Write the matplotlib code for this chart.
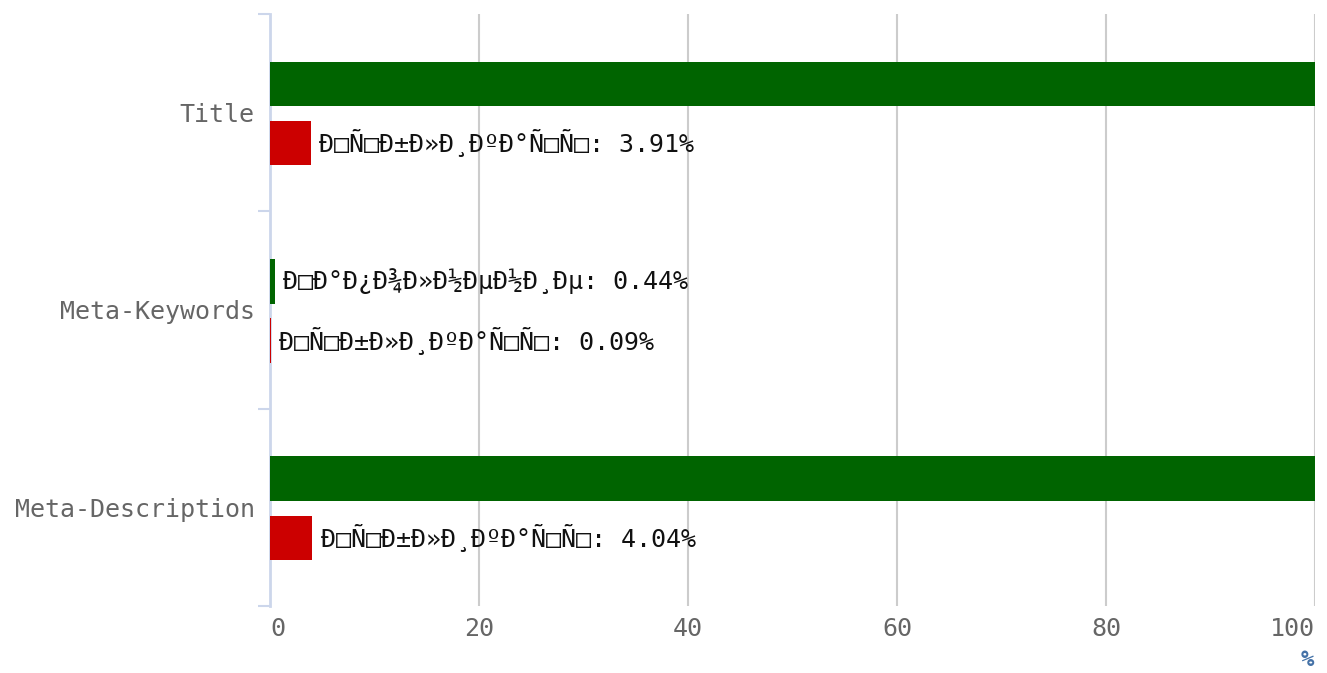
import numpy as np
import matplotlib.pyplot as plt

categories = ['Title', 'Meta-Keywords', 'Meta-Description']
filled = [100, 0.44, 100]      # Заполнение, %
duplicates = [3.91, 0.09, 4.04]  # Дубликаты, %
xticks = [0, 20, 40, 60, 80, 100]


def garble(s):
    # текст на картинке - utf-8, прочитанный как latin-1
    t = s.encode('utf-8').decode('latin-1')
    return ''.join('\u25a1' if 0x80 <= ord(c) <= 0x9f else c for c in t)


plt.rcParams['font.family'] = ['DejaVu Sans Mono', 'DejaVu Sans']
fig = plt.figure(figsize=(13.27, 6.73), dpi=100)
ax = fig.add_axes([0.2035, 0.0996, 0.7875, 0.8796])

y = np.arange(len(categories))
h = 0.225
ax.barh(y - 0.145, filled, height=h, color='#006400', zorder=3)
ax.barh(y + 0.155, duplicates, height=h, color='#cc0000', zorder=3)

# подписи у полных столбцов уходят за край и не видны
for i in range(len(categories)):
    if filled[i] < 100:
        ax.text(filled[i] + 0.8, y[i] - 0.145, garble('Заполнение') + ': %.2f%%' % filled[i],
                va='center', ha='left', fontsize=18, color='#111111', zorder=4)
    if duplicates[i] < 100:
        ax.text(duplicates[i] + 0.8, y[i] + 0.155, garble('Дубликаты') + ': %.2f%%' % duplicates[i],
                va='center', ha='left', fontsize=18, color='#111111', zorder=4)

ax.set_xlim(0, 100)
ax.set_ylim(len(categories) - 0.5, -0.5)
ax.set_xticks(xticks)
ax.set_xticklabels([str(v) for v in xticks])
xl = ax.get_xticklabels()
xl[0].set_ha('left')
xl[-1].set_ha('right')
ax.set_yticks(y)
ax.set_yticklabels(categories)
ax.set_yticks(np.arange(len(categories) + 1) - 0.5, minor=True)
ax.tick_params(axis='y', which='major', length=0, labelsize=18, labelcolor='#666666', pad=11)
ax.tick_params(axis='y', which='minor', length=9, width=1.5, color='#ccd6eb')
ax.tick_params(axis='x', length=0, labelsize=18, labelcolor='#666666', pad=8)
ax.grid(axis='x', color='#cccccc', linewidth=1.5, zorder=0)

for s in ['top', 'right', 'bottom']:
    ax.spines[s].set_visible(False)
ax.spines['left'].set_color('#ccd6eb')
ax.spines['left'].set_linewidth(2)

fig.text(0.985, 0.004, '%', color='#4572a7', fontsize=16, fontweight='bold',
         ha='center', va='bottom')

fig.savefig('out.png', dpi=100)
